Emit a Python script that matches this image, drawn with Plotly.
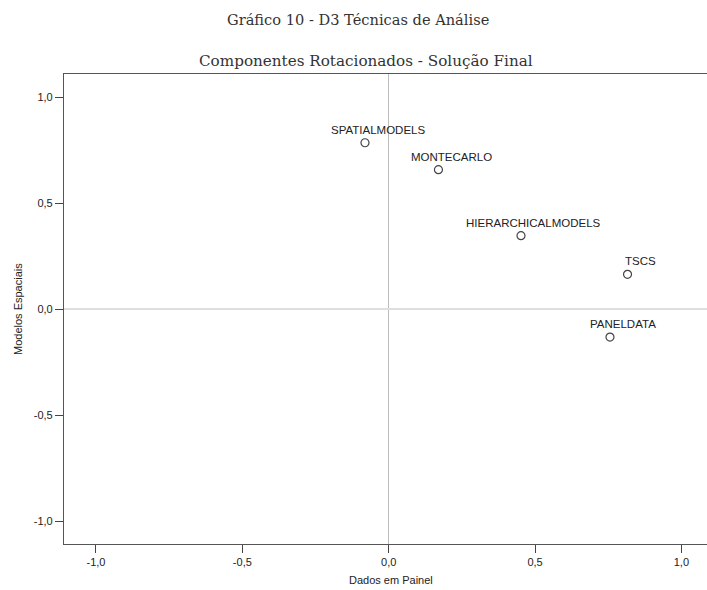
import plotly.graph_objects as go

# Component loadings after rotation
variables = ["SPATIALMODELS", "MONTECARLO", "HIERARCHICALMODELS", "TSCS", "PANELDATA"]
comp1_loadings = [-0.081, 0.170, 0.452, 0.816, 0.756]   # Dados em Painel
comp2_loadings = [0.785, 0.658, 0.347, 0.165, -0.131]   # Modelos Espaciais

tick_values = [-1.0, -0.5, 0.0, 0.5, 1.0]
tick_labels = ["-1,0", "-0,5", "0,0", "0,5", "1,0"]

main_title = "Gráfico 10 - D3 Técnicas de Análise"
sub_title = "Componentes Rotacionados - Solução Final"
x_title = "Dados em Painel"
y_title = "Modelos Espaciais"

W, H = 707, 590
L, R, T, B = 64, 0, 74, 46
plot_w = W - L - R
plot_h = H - T - B

SANS = "Liberation Sans, Arial, sans-serif"
SERIF = "DejaVu Serif, serif"

fig = go.Figure()
fig.add_trace(go.Scatter(
    x=comp1_loadings,
    y=comp2_loadings,
    mode="markers",
    marker=dict(symbol="circle-open", size=8, color="#444444",
                line=dict(width=1.2, color="#444444")),
    hoverinfo="text",
    text=variables,
    showlegend=False,
))

annotations = []
for name, xv, yv in zip(variables, comp1_loadings, comp2_loadings):
    annotations.append(dict(
        x=xv, y=yv, xref="x", yref="y", text=name, showarrow=False,
        xanchor="center", yanchor="middle", xshift=13, yshift=13,
        font=dict(family=SANS, size=11.5, color="#222222"),
    ))


def px_x(p):
    return (p - L) / plot_w


def px_y(p):
    return (H - B - p) / plot_h


annotations += [
    dict(text=main_title, xref="paper", yref="paper", x=px_x(357.5), y=px_y(20),
         xanchor="center", yanchor="middle", showarrow=False,
         font=dict(family=SERIF, size=14.6, color="#333333")),
    dict(text=sub_title, xref="paper", yref="paper", x=px_x(366), y=px_y(60.5),
         xanchor="center", yanchor="middle", showarrow=False,
         font=dict(family=SERIF, size=15.2, color="#333333")),
    dict(text=x_title, xref="paper", yref="paper", x=px_x(391), y=px_y(579.5),
         xanchor="center", yanchor="middle", showarrow=False,
         font=dict(family=SANS, size=11, color="#222222")),
    dict(text=y_title, xref="paper", yref="paper", x=px_x(18), y=px_y(309),
         xanchor="center", yanchor="middle", showarrow=False, textangle=-90,
         font=dict(family=SANS, size=11, color="#222222")),
]

fig.update_layout(
    width=W, height=H,
    margin=dict(l=L, r=R, t=T, b=B, pad=0),
    paper_bgcolor="white",
    plot_bgcolor="white",
    annotations=annotations,
    xaxis=dict(
        range=[-1.1093, 1.0875],
        tickvals=tick_values, ticktext=tick_labels,
        ticks="outside", ticklen=8, tickwidth=1, tickcolor="#444444",
        showline=True, linecolor="#555555", linewidth=1.2, mirror=True,
        showgrid=False,
        zeroline=True, zerolinecolor="#bdbdbd", zerolinewidth=1,
        tickfont=dict(family=SANS, size=11, color="#222222"),
        fixedrange=True,
    ),
    yaxis=dict(
        range=[-1.106, 1.1089],
        tickvals=tick_values, ticktext=tick_labels,
        ticks="outside", ticklen=8, tickwidth=1, tickcolor="#444444",
        showline=True, linecolor="#555555", linewidth=1.2,
        showgrid=False,
        zeroline=True, zerolinecolor="#dedede", zerolinewidth=1.5,
        tickfont=dict(family=SANS, size=11, color="#222222"),
        fixedrange=True,
    ),
)

fig.write_html("out.html")
